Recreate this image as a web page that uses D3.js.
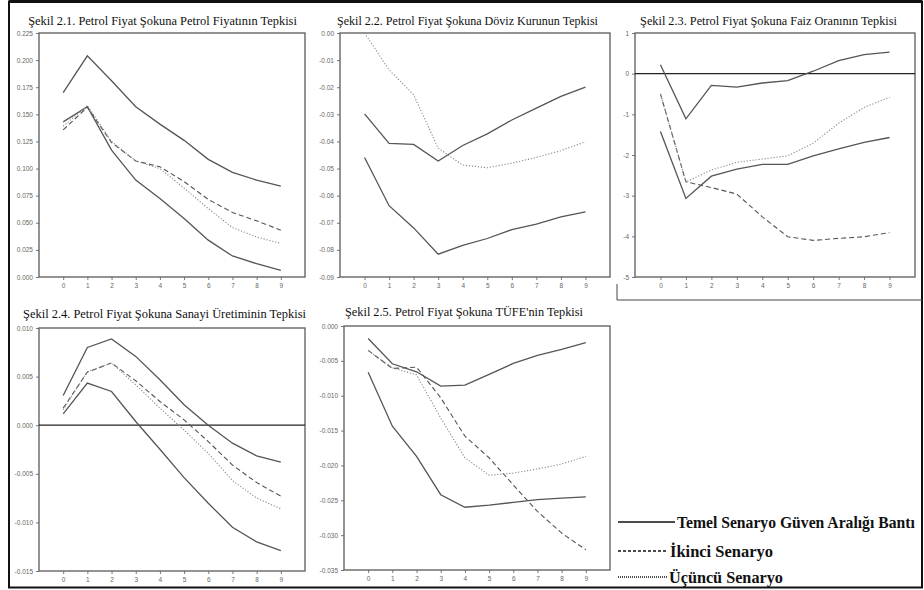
<!DOCTYPE html>
<html>
<head>
<meta charset="utf-8">
<script src="https://cdn.jsdelivr.net/npm/d3@7"></script>
<style>
  body { margin: 0; background: #fff; }
  svg { display: block; }
</style>
</head>
<body>
<div id="chart"></div>
<script>
// impulse-response panels, periods 0..9
var steps = [0, 1, 2, 3, 4, 5, 6, 7, 8, 9];

var titles = [
  "Şekil 2.1. Petrol Fiyat Şokuna Petrol Fiyatının Tepkisi",
  "Şekil 2.2. Petrol Fiyat Şokuna Döviz Kurunun Tepkisi",
  "Şekil 2.3. Petrol Fiyat Şokuna Faiz Oranının Tepkisi",
  "Şekil 2.4. Petrol Fiyat Şokuna Sanayi Üretiminin Tepkisi",
  "Şekil 2.5. Petrol Fiyat Şokuna TÜFE'nin Tepkisi"
];

// y ticks per panel
var yTicks1 = [0.000, 0.025, 0.050, 0.075, 0.100, 0.125, 0.150, 0.175, 0.200, 0.225];
var yTicks2 = [0.00, -0.01, -0.02, -0.03, -0.04, -0.05, -0.06, -0.07, -0.08, -0.09];
var yTicks3 = [1, 0, -1, -2, -3, -4, -5];
var yTicks4 = [0.010, 0.005, 0.000, -0.005, -0.010, -0.015];
var yTicks5 = [0.000, -0.005, -0.010, -0.015, -0.020, -0.025, -0.030, -0.035];

// Şekil 2.1 petrol fiyatı
var p1Upper  = [0.170, 0.204, 0.181, 0.157, 0.141, 0.126, 0.1085, 0.0965, 0.0894, 0.0838];
var p1Lower  = [0.143, 0.157, 0.117, 0.0894, 0.0724, 0.054, 0.034, 0.0194, 0.0123, 0.0062];
var p1Second = [0.1356, 0.1566, 0.124, 0.107, 0.1017, 0.088, 0.0715, 0.0595, 0.0518, 0.0432];
var p1Third  = [0.139, 0.158, 0.125, 0.107, 0.100, 0.082, 0.063, 0.0456, 0.037, 0.0308];

// Şekil 2.2 döviz kuru
var p2Upper = [-0.0298, -0.0407, -0.0411, -0.0472, -0.0415, -0.0372, -0.0321, -0.0277, -0.0234, -0.0200];
var p2Lower = [-0.0459, -0.0637, -0.0719, -0.0816, -0.0783, -0.0758, -0.0725, -0.0705, -0.0678, -0.0660];
var p2Third = [0.000, -0.0136, -0.0228, -0.0425, -0.0487, -0.0497, -0.0480, -0.0459, -0.0434, -0.0401];

// Şekil 2.3 faiz oranı
var p3Upper  = [0.22, -1.11, -0.29, -0.33, -0.23, -0.17, 0.06, 0.32, 0.47, 0.53];
var p3Lower  = [-1.42, -3.07, -2.52, -2.35, -2.23, -2.23, -2.02, -1.85, -1.69, -1.57];
var p3Second = [-0.50, -2.66, -2.80, -2.96, -3.52, -4.01, -4.10, -4.05, -4.01, -3.91];
var p3Third  = [-0.50, -2.66, -2.37, -2.18, -2.10, -2.02, -1.71, -1.22, -0.83, -0.58];

// Şekil 2.4 sanayi üretimi
var p4Upper  = [0.00306, 0.0080, 0.00887, 0.00708, 0.00468, 0.0021, 0.0000, -0.00185, -0.00315, -0.0038];
var p4Lower  = [0.00117, 0.00433, 0.00347, 0.00038, -0.00247, -0.00539, -0.00803, -0.0105, -0.0120, -0.0129];
var p4Second = [0.00176, 0.00547, 0.0064, 0.00457, 0.00244, 0.00055, -0.00168, -0.0041, -0.0059, -0.0073];
var p4Third  = [0.0016, 0.0055, 0.0064, 0.00416, 0.00176, -0.0005, -0.0029, -0.0057, -0.0075, -0.0086];

// Şekil 2.5 TÜFE
var p5Upper  = [-0.0018, -0.00542, -0.00657, -0.00863, -0.00849, -0.00695, -0.00537, -0.00422, -0.00336, -0.0024];
var p5Lower  = [-0.00662, -0.01438, -0.0187, -0.0242, -0.0260, -0.0257, -0.0253, -0.0249, -0.0247, -0.0245];
var p5Second = [-0.0035, -0.0061, -0.0059, -0.0103, -0.0158, -0.0189, -0.0228, -0.0266, -0.0297, -0.0321];
var p5Third  = [-0.0035, -0.0060, -0.0070, -0.0132, -0.0189, -0.0214, -0.0211, -0.0205, -0.0198, -0.0187];

var legendLabels = ["Temel Senaryo Güven Aralığı Bantı", "İkinci Senaryo", "Üçüncü Senaryo"];

var svgWidth = 924, svgHeight = 590;

var svg = d3.select("#chart").append("svg")
    .attr("width", svgWidth)
    .attr("height", svgHeight);

// outer frame
svg.append("rect")
    .attr("x", 9).attr("y", 1.5)
    .attr("width", 913).attr("height", 586)
    .attr("fill", "none").attr("stroke", "#111").attr("stroke-width", 2);
svg.append("line")
    .attr("x1", 9).attr("x2", 922).attr("y1", 1.5).attr("y2", 1.5)
    .attr("stroke", "#111").attr("stroke-width", 3);

// frame under the third figure
svg.append("path")
    .attr("d", "M617,284 L617,300 L922,300")
    .attr("fill", "none").attr("stroke", "#444").attr("stroke-width", 1);

var minusFix = function(f) { return function(d) { return f(d).replace("\u2212", "-"); }; };

// shrink font so the text fits the given width
function fitText(sel, width, size) {
  sel.style("font-size", size + "px");
  var w = sel.node().getComputedTextLength();
  if (w > width) sel.style("font-size", (size * width / w).toFixed(2) + "px");
}

var panels = [
  { title: titles[0], box: [39, 33, 305, 277], titleX: [28, 297], titleY: 25, domain: [0, 0.225], ticks: yTicks1, fmt: ".3f",
    upper: p1Upper, lower: p1Lower, second: p1Second, third: p1Third, zero: false },
  { title: titles[1], box: [340, 33, 610, 277], titleX: [337, 598], titleY: 25, domain: [-0.09, 0], ticks: yTicks2, fmt: ".2f",
    upper: p2Upper, lower: p2Lower, second: null, third: p2Third, zero: false },
  { title: titles[2], box: [635, 33, 915, 277], titleX: [640, 897], titleY: 25, domain: [-5, 1], ticks: yTicks3, fmt: "d",
    upper: p3Upper, lower: p3Lower, second: p3Second, third: p3Third, zero: true },
  { title: titles[3], box: [39, 328, 305, 571], titleX: [23, 306], titleY: 318, domain: [-0.015, 0.010], ticks: yTicks4, fmt: ".3f",
    upper: p4Upper, lower: p4Lower, second: p4Second, third: p4Third, zero: true },
  { title: titles[4], box: [344, 326, 610, 570], titleX: [345, 583], titleY: 316, domain: [-0.035, 0], ticks: yTicks5, fmt: ".3f",
    upper: p5Upper, lower: p5Lower, second: p5Second, third: p5Third, zero: false }
];

panels.forEach(function(p) {
  var x0 = p.box[0], y0 = p.box[1], x1 = p.box[2], y1 = p.box[3];

  var xScale = d3.scaleLinear().domain([-1, 10]).range([x0, x1]);
  var yScale = d3.scaleLinear().domain(p.domain).range([y1, y0]);

  var g = svg.append("g");

  // title
  var t = g.append("text")
      .attr("x", (p.titleX[0] + p.titleX[1]) / 2)
      .attr("y", p.titleY)
      .attr("text-anchor", "middle")
      .style("font-family", "'Liberation Serif', 'Times New Roman', serif")
      .attr("fill", "#111")
      .text(p.title);
  fitText(t, p.titleX[1] - p.titleX[0], 14);

  var xAxis = d3.axisBottom(xScale).tickValues(steps).tickSize(3).tickFormat(d3.format("d"));
  var yAxis = d3.axisLeft(yScale).tickValues(p.ticks).tickSize(3).tickFormat(minusFix(d3.format(p.fmt)));

  var xg = g.append("g").attr("transform", "translate(0," + y1 + ")").call(xAxis);
  var yg = g.append("g").attr("transform", "translate(" + x0 + ",0)").call(yAxis);
  [xg, yg].forEach(function(a) {
    a.select(".domain").remove();
    a.selectAll("line").attr("stroke", "#777");
    a.selectAll("text")
      .attr("fill", "#666")
      .style("font-family", "'Liberation Sans', Arial, sans-serif")
      .style("font-size", "6.5px");
  });
  yg.selectAll("text").attr("x", -6);

  // plot box
  g.append("rect")
      .attr("x", x0).attr("y", y0)
      .attr("width", x1 - x0).attr("height", y1 - y0)
      .attr("fill", "none").attr("stroke", "#666").attr("stroke-width", 1.4);

  if (p.zero) {
    g.append("line")
      .attr("x1", x0).attr("x2", x1)
      .attr("y1", yScale(0)).attr("y2", yScale(0))
      .attr("stroke", "#222").attr("stroke-width", 1.2);
  }

  var drawLine = d3.line()
      .x(function(d, i) { return xScale(steps[i]); })
      .y(function(d) { return yScale(d); });

  var series = [
    { vals: p.upper, dash: null, color: "#555", w: 1.3 },
    { vals: p.lower, dash: null, color: "#555", w: 1.3 },
    { vals: p.second, dash: "5,3", color: "#555", w: 1.1 },
    { vals: p.third, dash: "1.2,1.8", color: "#888", w: 1.1 }
  ];
  series.forEach(function(s) {
    if (!s.vals) return;
    g.append("path")
      .attr("d", drawLine(s.vals))
      .attr("fill", "none")
      .attr("stroke", s.color)
      .attr("stroke-width", s.w)
      .attr("stroke-dasharray", s.dash);
  });
});

// legend
var legendDash = [null, "3,2", "1,1"];
var legendY = [522, 551, 577];
var legendTextX = [677, 670, 669];
var legendTextEnd = [915, 773, 783];
legendLabels.forEach(function(lbl, i) {
  svg.append("line")
      .attr("x1", 618).attr("x2", legendTextX[i] - 2)
      .attr("y1", legendY[i]).attr("y2", legendY[i])
      .attr("stroke", "#111").attr("stroke-width", 1.6)
      .attr("stroke-dasharray", legendDash[i]);
  var lt = svg.append("text")
      .attr("x", legendTextX[i])
      .attr("y", legendY[i] + 6)
      .style("font-family", "'Liberation Serif', 'Times New Roman', serif")
      .style("font-weight", "bold")
      .attr("fill", "#111")
      .text(lbl);
  fitText(lt, legendTextEnd[i] - legendTextX[i], 17);
});
</script>
</body>
</html>
